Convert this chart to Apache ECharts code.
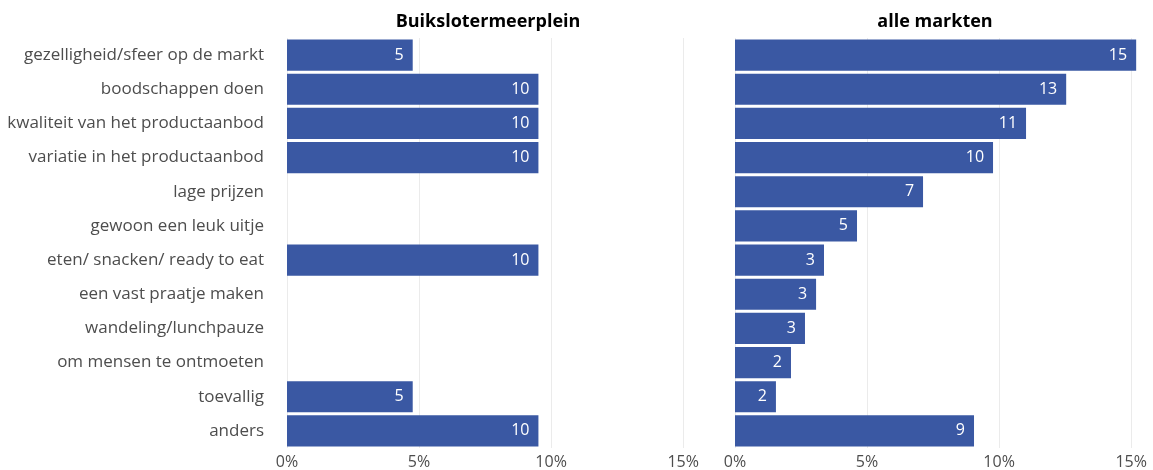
<!DOCTYPE html>
<html>
<head>
<meta charset="utf-8">
<script src="https://cdn.jsdelivr.net/npm/echarts@6/dist/echarts.min.js"></script>
<style>
    html, body { margin: 0; padding: 0; background: #fff; }
    #main { width: 1153px; height: 470px; }
</style>
</head>
<body>
<div id="main"></div>
<script>
    // categorieen (van boven naar beneden)
    var categories = [
        'gezelligheid/sfeer op de markt',
        'boodschappen doen',
        'kwaliteit van het productaanbod',
        'variatie in het productaanbod',
        'lage prijzen',
        'gewoon een leuk uitje',
        'eten/ snacken/ ready to eat',
        'een vast praatje maken',
        'wandeling/lunchpauze',
        'om mensen te ontmoeten',
        'toevallig',
        'anders'
    ];
    var panelTitles = ['Buikslotermeerplein', 'alle markten'];
    // percentages
    var buikslotermeerplein = [4.76, 9.52, 9.52, 9.52, null, null, 9.52, null, null, null, 4.76, 9.52];
    var alleMarkten = [15.19, 12.54, 11.02, 9.77, 7.12, 4.62, 3.37, 3.07, 2.65, 2.12, 1.55, 9.05];
    var xTicks = [0, 5, 10, 15];

    var barColor = '#3a58a3';
    var textColor = '#4d4d4d';
    var font = 'Open Sans';

    var myChart = echarts.init(document.getElementById('main'), null, { renderer: 'canvas' });

    function xAxis(idx) {
        return {
            type: 'value', gridIndex: idx, min: 0, max: 15.6, interval: 5,
            axisLine: { show: false }, axisTick: { show: false },
            splitLine: { showMaxLine: false, lineStyle: { color: '#ebebeb', width: 1 } },
            axisLabel: {
                color: textColor, fontFamily: font, fontSize: 16, margin: 6,
                showMaxLabel: false,
                formatter: function (v) { return xTicks.indexOf(v) >= 0 ? v + '%' : ''; }
            }
        };
    }
    function yAxis(idx, showLabels) {
        return {
            type: 'category', gridIndex: idx, data: categories, inverse: true,
            axisLine: { show: false }, axisTick: { show: false },
            axisLabel: { show: showLabels, color: textColor, fontFamily: font, fontSize: 17, margin: 23,
                         padding: [5, 0, 0, 0] }
        };
    }
    function barSeries(idx, data) {
        return {
            type: 'bar', xAxisIndex: idx, yAxisIndex: idx, data: data,
            barCategoryGap: '9%',
            itemStyle: { color: barColor },
            label: {
                show: true, position: 'insideRight', distance: 9,
                color: '#fff', fontFamily: font, fontSize: 16, padding: [3, 0, 0, 0],
                formatter: function (p) { return Math.round(p.value); }
            },
            silent: true, animation: false
        };
    }

    var option = {
        animation: false,
        title: [
            { text: panelTitles[0], left: 483, top: 8, textAlign: 'center',
              textStyle: { fontFamily: font, fontSize: 18, fontWeight: 'bold', color: '#000' } },
            { text: panelTitles[1], left: 930, top: 8, textAlign: 'center',
              textStyle: { fontFamily: font, fontSize: 18, fontWeight: 'bold', color: '#000' } }
        ],
        grid: [
            { left: 287, top: 38, width: 412, height: 410 },
            { left: 735, top: 38, width: 412, height: 410 }
        ],
        xAxis: [xAxis(0), xAxis(1)],
        yAxis: [yAxis(0, true), yAxis(1, false)],
        series: [barSeries(0, buikslotermeerplein), barSeries(1, alleMarkten)]
    };
    myChart.setOption(option);
</script>
</body>
</html>
